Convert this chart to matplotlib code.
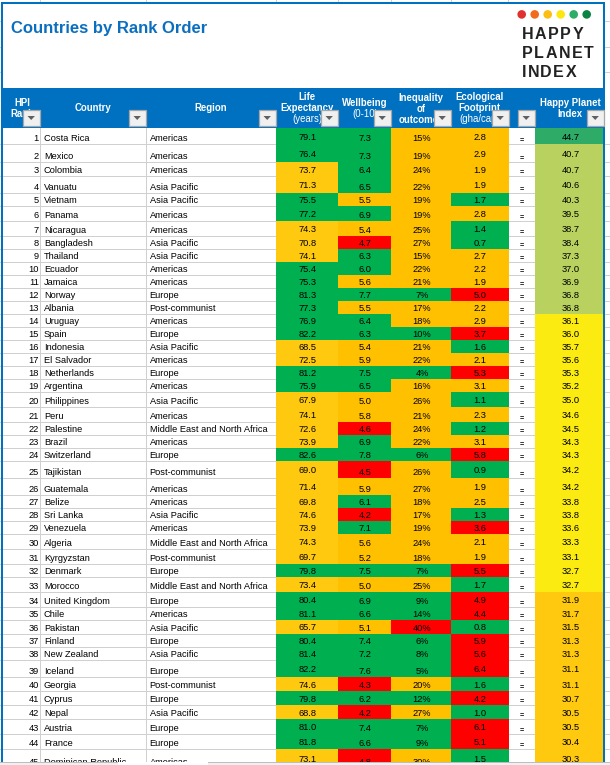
import matplotlib
matplotlib.use("Agg")
import matplotlib.pyplot as plt
from matplotlib.patches import Rectangle, Circle, Polygon
from matplotlib.textpath import TextPath
from matplotlib.font_manager import FontProperties

# ---------- data ----------
ranks = list(range(1, 46))
countries = ["Costa Rica","Mexico","Colombia","Vanuatu","Vietnam","Panama","Nicaragua","Bangladesh","Thailand",
    "Ecuador","Jamaica","Norway","Albania","Uruguay","Spain","Indonesia","El Salvador","Netherlands","Argentina",
    "Philippines","Peru","Palestine","Brazil","Switzerland","Tajikistan","Guatemala","Belize","Sri Lanka",
    "Venezuela","Algeria","Kyrgyzstan","Denmark","Morocco","United Kingdom","Chile","Pakistan","Finland",
    "New Zealand","Iceland","Georgia","Cyprus","Nepal","Austria","France","Dominican Republic"]
AM, AP, EU, PC, ME = "Americas", "Asia Pacific", "Europe", "Post-communist", "Middle East and North Africa"
regions = [AM,AM,AM,AP,AP,AM,AM,AP,AP,AM,AM,EU,PC,AM,EU,AP,AM,EU,AM,AP,AM,ME,AM,EU,PC,AM,AM,AP,AM,ME,PC,EU,ME,
    EU,AM,AP,EU,AP,EU,PC,EU,AP,EU,EU,AM]
life = [79.1,76.4,73.7,71.3,75.5,77.2,74.3,70.8,74.1,75.4,75.3,81.3,77.3,76.9,82.2,68.5,72.5,81.2,75.9,67.9,74.1,
    72.6,73.9,82.6,69.0,71.4,69.8,74.6,73.9,74.3,69.7,79.8,73.4,80.4,81.1,65.7,80.4,81.4,82.2,74.6,79.8,68.8,
    81.0,81.8,73.1]
wellbeing = [7.3,7.3,6.4,6.5,5.5,6.9,5.4,4.7,6.3,6.0,5.6,7.7,5.5,6.4,6.3,5.4,5.9,7.5,6.5,5.0,5.8,4.6,6.9,7.8,4.5,
    5.9,6.1,4.2,7.1,5.6,5.2,7.5,5.0,6.9,6.6,5.1,7.4,7.2,7.6,4.3,6.2,4.2,7.4,6.6,4.8]
inequality = [15,19,24,22,19,19,25,27,15,22,21,7,17,18,10,21,22,4,16,26,21,24,22,6,26,27,18,17,19,24,18,7,25,9,14,
    40,6,8,5,20,12,27,7,9,30]
footprint = [2.8,2.9,1.9,1.9,1.7,2.8,1.4,0.7,2.7,2.2,1.9,5.0,2.2,2.9,3.7,1.6,2.1,5.3,3.1,1.1,2.3,1.2,3.1,5.8,0.9,
    1.9,2.5,1.3,3.6,2.1,1.9,5.5,1.7,4.9,4.4,0.8,5.9,5.6,6.4,1.6,4.2,1.0,6.1,5.1,1.5]
hpi = [44.7,40.7,40.7,40.6,40.3,39.5,38.7,38.4,37.3,37.0,36.9,36.8,36.8,36.1,36.0,35.7,35.6,35.3,35.2,35.0,34.6,
    34.5,34.3,34.3,34.2,34.2,33.8,33.8,33.6,33.3,33.1,32.7,32.7,31.9,31.7,31.5,31.3,31.3,31.1,31.1,30.7,30.5,
    30.5,30.4,30.3]

# ---------- layout (pixel grid of the sheet) ----------
W, H = 610, 765
ROW_EDGES = [128,144,162,176,193,206,221,236,249,262,275,288,301,314,327,340,353,366,379,392,407,422,435,448,461,
    478,495,508,521,534,549,564,577,592,607,620,634,647,660,677,691,705,719,734,749,768]
COLS = {"rank":(3,40),"country":(40,146),"region":(146,276),"life":(276,338),"well":(338,391),"ineq":(391,451),
        "foot":(451,509),"eq":(509,535),"hpi":(535,603)}
BLUE, GRID, GREEN, RED = "#0070C0", "#D0D0D0", "#00B050", "#FF0000"
AMBER, AMBER2 = "#FFC000", "#FFC90F"
FS = 6.7
FS_HDR = 6.9

plt.rcParams["font.family"] = ["Liberation Sans", "DejaVu Sans"]
fig = plt.figure(figsize=(W/100, H/100), dpi=100, facecolor="white")
ax = fig.add_axes([0, 0, 1, 1])
ax.set_xlim(0, W); ax.set_ylim(H, 0); ax.axis("off")

def rect(x0, x1, y0, y1, color, z=1):
    ax.add_patch(Rectangle((x0, y0), x1-x0, y1-y0, facecolor=color, edgecolor="none", zorder=z, antialiased=False))

def life_c(v): return GREEN if v >= 75 else AMBER2
def well_c(v): return GREEN if v >= 6 else (RED if v < 5 else AMBER)
def ineq_c(v): return GREEN if v < 15 else (RED if v > 35 else AMBER)
def foot_c(v): return GREEN if v <= 1.7 else (RED if v >= 3.6 else AMBER)
def hpi_c(v):
    if v > 42: return "#2EAB66"
    if v > 36.5: return "#B9D25F"
    if v > 32: return "#FBEB10"
    return AMBER2

# ---------- body ----------
n = len(ranks)
for i in range(n):
    t, b = ROW_EDGES[i], ROW_EDGES[i+1]
    mid = (t + b) / 2 + 3.5
    low = b - 3
    for key, fn, v in (("life",life_c,life[i]),("well",well_c,wellbeing[i]),("ineq",ineq_c,inequality[i]),
                       ("foot",foot_c,footprint[i]),("hpi",hpi_c,hpi[i])):
        rect(COLS[key][0], COLS[key][1], t, b, fn(v))
    kw = dict(color="black", va="baseline", zorder=4)
    ax.text(38.7, low, str(ranks[i]), ha="right", fontsize=FS, **kw)
    ax.text(44, low, countries[i], ha="left", fontsize=FS, **kw)
    ax.text(149.7, low, regions[i], ha="left", fontsize=FS, **kw)
    ax.text(307.7, mid, f"{life[i]:.1f}", ha="center", fontsize=FS, **kw)
    ax.text(365.3, low, f"{wellbeing[i]:.1f}", ha="center", fontsize=FS, **kw)
    ax.text(422, low, f"{inequality[i]}%", ha="center", fontsize=FS, **kw)
    ax.text(480, mid, f"{footprint[i]:.1f}", ha="center", fontsize=FS, **kw)
    ax.text(522, low, "=", ha="center", fontsize=5.2, fontweight="bold", **kw)
    ax.text(571, mid, f"{hpi[i]:.1f}", ha="center", fontsize=FS, **kw)

# grid lines
for y in ROW_EDGES[1:-1]:
    for x0, x1 in ((3, 276), (509, 535), (605, 610), (0, 1)):
        rect(x0, x1, y, y+1, GRID, 2)
for x in (40, 146):
    rect(x, x+1, 128, 768, GRID, 2)
for x in (40, 146, 276, 338, 391, 451, 508):
    rect(x, x+1, 0, 2, GRID, 2)
for y in (21, 47, 72):
    rect(605, 610, y, y+1, GRID, 2); rect(0, 1, y, y+1, GRID, 2)

# ---------- frame / header ----------
rect(1, 605, 2, 4, BLUE, 3)
rect(1, 3, 2, H, BLUE, 3)
rect(603, 605, 2, H, BLUE, 3)
rect(3, 603, 88, 128, BLUE, 3)

ax.text(11, 28, "Countries by Rank Order", fontsize=12, fontweight="bold", color="#0B6FC0", va="center", ha="left", zorder=4)

hdr = [
    (22, [("HPI",103,True),("Rank",114,True)]),
    (93, [("Country",108,True)]),
    (211, [("Region",108,True)]),
    (307, [("Life",97,True),("Expectancy",108,True),("(years)",119,False)]),
    (365, [("Wellbeing",103,True),("(0-10)",114,False)]),
    (421, [("Inequality",98,True),("of",109,True),("outcomes",120,True)]),
    (479.5, [("Ecological",97,True),("Footprint",108,True),("(gha/cap)",119,False)]),
    (570, [("Happy Planet",103,True),("Index",114,True)]),
]
for cx, lines in hdr:
    for s, y, bold in lines:
        ax.text(cx, y + 3, s, color="white", fontsize=FS_HDR, fontweight="bold" if bold else "normal",
                ha="center", va="baseline", zorder=5)

for x1 in (40, 146, 276, 338, 391, 451, 509, 535, 604):
    x0 = x1 - 17
    ax.add_patch(Rectangle((x0, 109.5), 16.5, 16.5, facecolor="#F0F0F0", edgecolor="#A6A6A6", lw=0.9, zorder=6))
    c = x0 + 8.2
    ax.add_patch(Polygon([(c-3.7, 116), (c+3.7, 116), (c, 120)], closed=True, facecolor="#606060", edgecolor="none", zorder=7))

# ---------- logo ----------
dot_colors = ["#E03030", "#F26A1B", "#FDBE13", "#FCE80F", "#2EAD66", "#0A8443"]
for k, col in enumerate(dot_colors):
    ax.add_patch(Circle((521.7 + 13 * k, 14.4), 4.3, facecolor=col, edgecolor="none", zorder=4))
fp = FontProperties(family="Liberation Sans", size=11.5, weight="bold")
for word, y in (("HAPPY", 39), ("PLANET", 58), ("INDEX", 77)):
    x = 522
    for ch in word:
        ax.text(x, y, ch, fontproperties=fp, color="#222222", ha="left", va="baseline", zorder=4)
        x += TextPath((0, 0), ch, size=16, prop=fp).get_extents().x1 + 2.2

# ---------- status strip ----------
rect(0, 118, 762, H, "#F0F0F0", 8)
rect(208, W, 762, H, "#F0F0F0", 8)
rect(118, 208, 762, H, "white", 8)
rect(0, 118, 762, 763, "#BDBDBD", 9)
rect(208, W, 762, 763, "#BDBDBD", 9)

fig.savefig("out.png", dpi=100, facecolor="white")
